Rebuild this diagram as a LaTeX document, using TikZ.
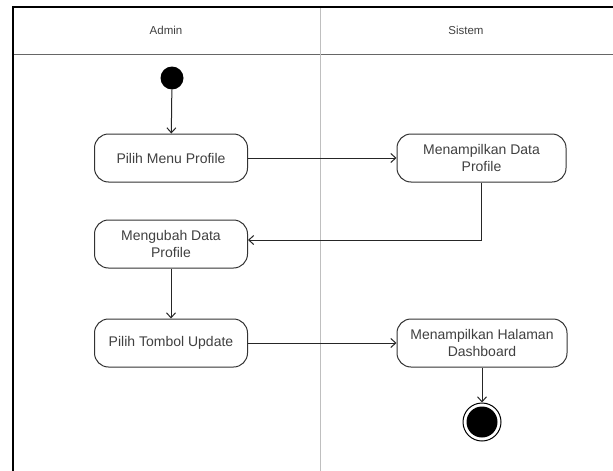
\documentclass[tikz,border=0pt]{standalone}
\usepackage{fontspec}
\setmainfont{Liberation Sans}
\usetikzlibrary{arrows.meta}
\begin{document}
\begin{tikzpicture}[x=1pt,y=-1pt,
  act/.style={draw=black!80, line width=1pt, rounded corners=14pt, minimum width=153pt, minimum height=48pt, align=center, font=\fontsize{14}{17.5}\selectfont, text=black!75, inner sep=2pt},
  flow/.style={draw=black!85, line width=1pt, -{Straight Barb[length=5pt,width=9pt]}},
  startdot/.style={circle, fill=black, minimum size=23pt, inner sep=0pt},
  lbl/.style={font=\fontsize{11.5}{14}\selectfont, text=black!75}]
\useasboundingbox (0,0) rectangle (613,471);
\clip (0,0) rectangle (613,471);
\fill[white] (0,0) rectangle (613,471);
% swimlane frame
\draw[black!60, line width=0.8pt] (13,54) -- (620,54);
\draw[black!25, line width=0.8pt] (320,7) -- (320,480);
\draw[black, line width=1.6pt] (13,480) -- (13,7) -- (620,7);
\node[lbl] (hA) at (166,30) {Admin};
\node[lbl] (hS) at (466,30) {Sistem};
% nodes
\node[startdot] (start) at (172,78) {};
\node[act] (n1) at (171,158) {Pilih Menu Profile};
\node[act, minimum width=169pt] (n2) at (481.5,158) {Menampilkan Data\\Profile};
\node[act] (n3) at (171,244) {Mengubah Data\\Profile};
\node[act] (n4) at (171,343) {Pilih Tombol Update};
\node[act, minimum width=170pt] (n5) at (482,343) {Menampilkan Halaman\\Dashboard};
\node[circle, draw=black, line width=1pt, minimum size=38pt, inner sep=0pt] (end) at (482,422) {};
\node[circle, fill=black, minimum size=31pt, inner sep=0pt] (endin) at (end) {};
% connectors
\draw[flow] (start) -- (n1);
\draw[flow] (n1) -- (n2);
\coordinate (c1) at (n2.south |- 0,240);
\draw[flow] (n2.south) -- (c1) -- (n3.east |- c1);
\draw[flow] (n3) -- (n4);
\draw[flow] (n4) -- (n5);
\draw[flow] (n5) -- (end);
\end{tikzpicture}
\end{document}
